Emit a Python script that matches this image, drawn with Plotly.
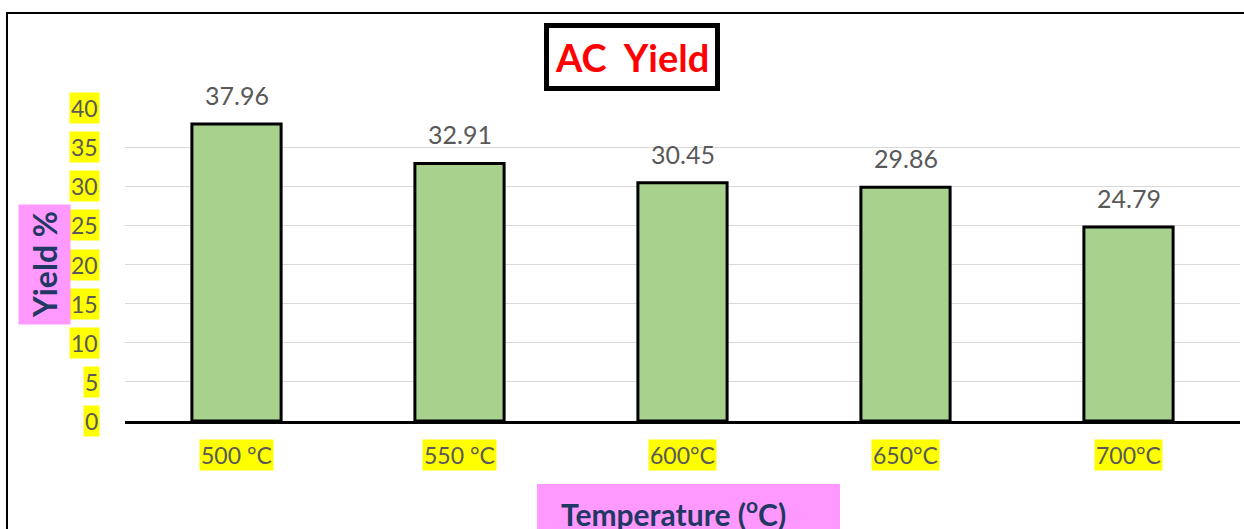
import plotly.graph_objects as go

categories = ["500 °C", "550 °C", "600°C", "650°C", "700°C"]
yield_values = [37.96, 32.91, 30.45, 29.86, 24.79]
y_ticks = [0, 5, 10, 15, 20, 25, 30, 35, 40]
title_text = "AC  Yield"
y_title = "Yield %"
x_title = "Temperature (<sup>o</sup>C)"

W, H = 1244, 529
L, R, T, B = 125, 4, 108, 108
PW, PH = W - L - R, H - T - B

def px_x(p):
    return (p - L) / PW

def px_y(p):
    return (H - B - p) / PH

FONT = "Lato"
GRAY = "#595959"
NAVY = "#1F3864"
PINK = "#FF99FF"
YELLOW = "#FFFF00"

fig = go.Figure()
fig.add_trace(go.Bar(
    x=categories, y=yield_values,
    marker=dict(color="#A9D18E", line=dict(color="black", width=3)),
    hoverinfo="x+y",
))

ann = []
# data labels
for c, v in zip(categories, yield_values):
    ann.append(dict(x=c, y=v, xref="x", yref="y", text=f"{v:.2f}", showarrow=False,
                    yanchor="bottom", yshift=12, font=dict(family=FONT, size=25, color=GRAY)))
# y tick labels with yellow highlight
for t in y_ticks:
    ann.append(dict(x=px_x(100), y=t, xref="paper", yref="y", text=str(t), showarrow=False,
                    xanchor="right", yanchor="middle", bgcolor=YELLOW, borderpad=1,
                    font=dict(family=FONT, size=23, color=GRAY)))
# x tick labels with yellow highlight
for c in categories:
    ann.append(dict(x=c, y=px_y(455), xref="x", yref="paper", text=c, showarrow=False,
                    xanchor="center", yanchor="middle", bgcolor=YELLOW, borderpad=1,
                    font=dict(family=FONT, size=23, color=GRAY)))
# title
ann.append(dict(x=px_x(632), y=px_y(57), xref="paper", yref="paper", text="<b>" + title_text + "</b>",
                showarrow=False, xanchor="center", yanchor="middle", bgcolor="white",
                bordercolor="black", borderwidth=5, borderpad=6,
                font=dict(family=FONT, size=38, color="#FF0000")))
# y title
ann.append(dict(x=px_x(44), y=px_y(265), xref="paper", yref="paper", text="<b>" + y_title + "</b>",
                showarrow=False, xanchor="center", yanchor="middle", textangle=-90,
                bgcolor=PINK, borderpad=6, font=dict(family=FONT, size=32, color=NAVY)))
# x title
ann.append(dict(x=px_x(559), y=px_y(512), xref="paper", yref="paper", text="<b>" + x_title + "</b>",
                showarrow=False, xanchor="left", yanchor="middle",
                font=dict(family=FONT, size=30, color=NAVY)))

shapes = [
    dict(type="rect", xref="paper", yref="paper", x0=px_x(537), x1=px_x(840),
         y0=px_y(484), y1=px_y(560), fillcolor=PINK, line=dict(width=0), layer="below"),
    dict(type="rect", xref="paper", yref="paper", x0=px_x(7), x1=px_x(1260),
         y0=px_y(13), y1=px_y(560), fillcolor="rgba(0,0,0,0)", line=dict(color="black", width=2)),
]

fig.update_layout(
    width=W, height=H,
    margin=dict(l=L, r=R, t=T, b=B, pad=0),
    paper_bgcolor="white", plot_bgcolor="white",
    bargap=0.6, showlegend=False,
    annotations=ann, shapes=shapes,
    xaxis=dict(type="category", showticklabels=False, showgrid=False, ticks="",
               showline=True, linecolor="black", linewidth=3, zeroline=False),
    yaxis=dict(range=[0, 40], tickvals=y_ticks, showticklabels=False, showgrid=True,
               gridcolor="#D9D9D9", gridwidth=1, zeroline=False, showline=False, ticks=""),
)

fig.write_html("out.html", config={"displayModeBar": False},
               post_script="document.body.style.margin='0px';document.body.style.overflow='hidden';")
